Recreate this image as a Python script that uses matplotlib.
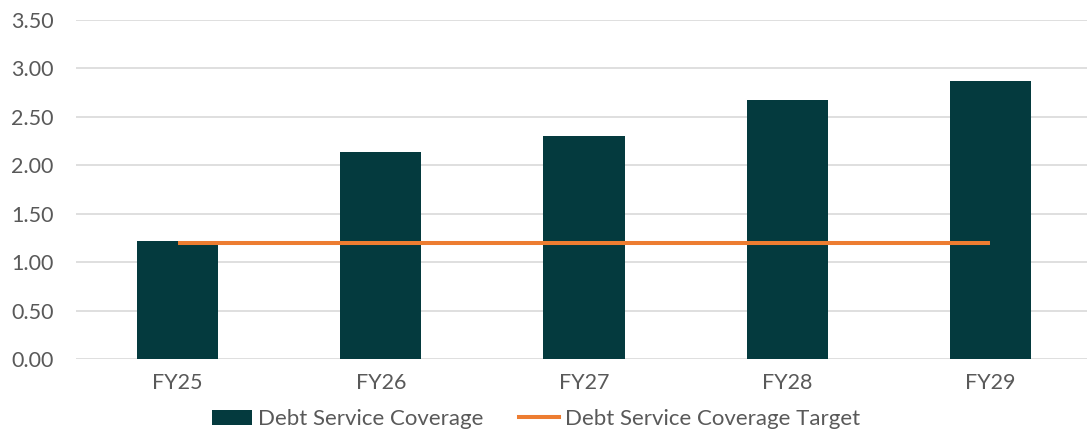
import matplotlib
matplotlib.use('Agg')
import matplotlib.pyplot as plt
from matplotlib.lines import Line2D
from matplotlib.patches import Patch
import numpy as np

years = ['FY25', 'FY26', 'FY27', 'FY28', 'FY29']
coverage = [1.22, 2.14, 2.30, 2.68, 2.87]
target = [1.20, 1.20, 1.20, 1.20, 1.20]
yticks = [0.0, 0.5, 1.0, 1.5, 2.0, 2.5, 3.0, 3.5]

bar_color = '#043A3E'
line_color = '#ED7D31'
text_color = '#595959'

plt.rcParams['font.family'] = ['Lato', 'DejaVu Sans']

fig = plt.figure(figsize=(10.87, 4.38), dpi=100)
ax = fig.add_axes([0.0699, 0.1797, 0.9347, 0.7746])

x = np.arange(len(years))
ax.bar(x, coverage, width=0.40, color=bar_color, zorder=2)
ax.plot(x, target, color=line_color, linewidth=2.9, zorder=3,
        solid_capstyle='butt')

ax.set_xlim(-0.5, len(years) - 0.5)
ax.set_ylim(0, 3.5)
ax.set_yticks(yticks)
ax.set_yticklabels(['{:.2f}'.format(v) for v in yticks])
ax.set_xticks(x)
ax.set_xticklabels(years)
ax.tick_params(axis='both', length=0, labelsize=15.5, colors=text_color)
ax.tick_params(axis='y', pad=16)
ax.tick_params(axis='x', pad=10)
ax.yaxis.grid(True, color='#D9D9D9', linewidth=1.2, zorder=0)
for s in ax.spines.values():
    s.set_visible(False)

handles = [Patch(facecolor=bar_color, label='Debt Service Coverage'),
           Line2D([0], [0], color=line_color, linewidth=2.9,
                  label='Debt Service Coverage Target')]
fig.legend(handles=handles, loc='center', bbox_to_anchor=(0.493, 0.043),
           ncol=2, frameon=False, fontsize=16, labelcolor=text_color,
           handlelength=1.8, handletextpad=0.27, columnspacing=1.6)

fig.savefig('out.png', dpi=100)
